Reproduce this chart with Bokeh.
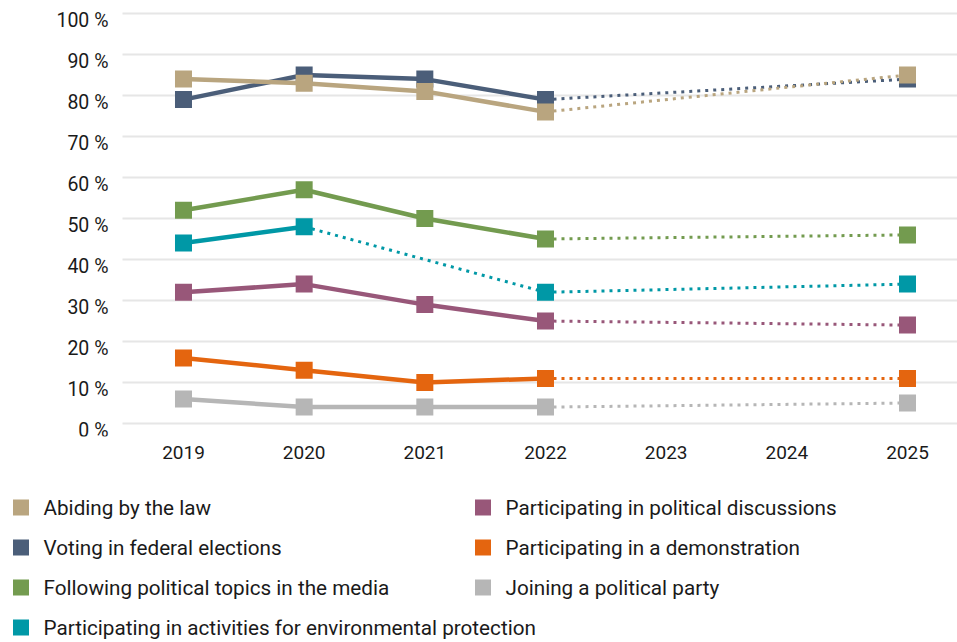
from bokeh.plotting import figure
from bokeh.models import Range1d, LinearAxis, FixedTicker, Grid, ColumnDataSource
from bokeh.layouts import column
from bokeh.embed import file_html
from bokeh.resources import INLINE
from bokeh.core.properties import value

# ---------------- data ----------------
years = [2019, 2020, 2021, 2022, 2025]
axis_years = [2019, 2020, 2021, 2022, 2023, 2024, 2025]
y_ticks = [0, 10, 20, 30, 40, 50, 60, 70, 80, 90, 100]
y_tick_labels = [f"{t} %" for t in y_ticks]

labels = [
    "Abiding by the law",
    "Voting in federal elections",
    "Following political topics in the media",
    "Participating in activities for environmental protection",
    "Participating in political discussions",
    "Participating in a demonstration",
    "Joining a political party",
]
colors = ["#B9A57F", "#4B5E79", "#739B4F", "#0098A6", "#985779", "#E4650F", "#B6B6B6"]

law = [84, 83, 81, 76, 85]
voting = [79, 85, 84, 79, 84]
media = [52, 57, 50, 45, 46]
environment = [44, 48, None, 32, 34]
discussions = [32, 34, 29, 25, 24]
demonstration = [16, 13, 10, 11, 11]
party = [6, 4, 4, 4, 5]
series = [law, voting, media, environment, discussions, demonstration, party]

FONT = "Roboto"
FS_AX = "19.5px"
FS_LEG = "20.7px"
TXT = "#1a1a1a"

W = 957
H_MAIN = 470
H_LEG = 642 - H_MAIN

# ---------------- main chart ----------------
X0, X1 = 2017.4835, 2025.4144
p = figure(width=W, height=H_MAIN, output_backend="svg", toolbar_location=None,
           x_range=Range1d(X0, X1), y_range=Range1d(-3.17, 103.17),
           x_axis_location=None, y_axis_location=None,
           min_border_left=0, min_border_right=0, min_border_top=0, min_border_bottom=34)
p.outline_line_color = None
p.center = [r for r in p.center if not isinstance(r, Grid)]

xax = LinearAxis(ticker=FixedTicker(ticks=axis_years))
xax.axis_line_color = None
xax.major_tick_line_color = None
xax.minor_tick_line_color = None
xax.major_label_standoff = 3
xax.major_label_text_font = FONT
xax.major_label_text_font_size = "19px"
xax.major_label_text_color = TXT
p.add_layout(xax, "below")

# horizontal gridlines, starting right of the value labels
grid_start = 2018.4945
p.segment(x0=[grid_start] * len(y_ticks), x1=[X1] * len(y_ticks), y0=y_ticks, y1=y_ticks,
          line_color="#e6e6e6", line_width=2)
p.text(x=[2018.378] * len(y_ticks), y=y_ticks, text=y_tick_labels,
       text_font=value(FONT), text_font_size=FS_AX, text_color=TXT,
       text_align="right", text_baseline="middle", y_offset=7)

# draw in reverse so the first series sits on top
for vals, col in reversed(list(zip(series, colors))):
    pts = [(x, v) for x, v in zip(years, vals) if v is not None]
    for (x0, v0), (x1, v1) in zip(pts[:-1], pts[1:]):
        if x1 - x0 == 1 and x1 <= 2022:
            p.line([x0, x1], [v0, v1], line_color=col, line_width=4.5)
        else:
            p.line([x0, x1], [v0, v1], line_color=col, line_width=3, line_dash="3 5")
    p.scatter([x for x, _ in pts], [v for _, v in pts], marker="square", size=17,
              fill_color=col, line_color=None)

# ---------------- legend ----------------
lg = figure(width=W, height=H_LEG, output_backend="svg", toolbar_location=None,
            x_range=Range1d(0, W), y_range=Range1d(H_LEG, 0),
            x_axis_location=None, y_axis_location=None, min_border=0)
lg.outline_line_color = None
lg.center = [r for r in lg.center if not isinstance(r, Grid)]

idx = list(range(len(labels)))
cols_i = [i // 4 for i in idx]
rows_i = [i % 4 for i in idx]
src = ColumnDataSource(dict(
    sx=[20.5 + 462 * c for c in cols_i],
    tx=[43 + 462 * c for c in cols_i],
    y=[37 + 40 * r for r in rows_i],
    color=colors,
    label=labels,
))
lg.scatter("sx", "y", source=src, marker="square", size=16, fill_color="color", line_color=None)
lg.text("tx", "y", text="label", source=src, text_font=value(FONT), text_font_size=FS_LEG,
        text_baseline="middle", text_align="left", text_color=TXT)

layout = column(p, lg, spacing=0)
open("out.html", "w").write(file_html(layout, INLINE))
